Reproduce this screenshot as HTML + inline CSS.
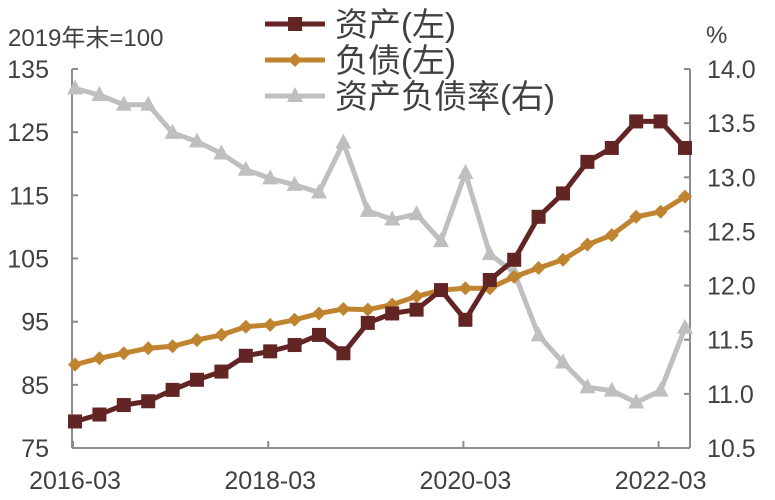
<!DOCTYPE html>
<html><head><meta charset="utf-8">
<style>
body{margin:0;background:#fff;}
svg{display:block;font-family:"Liberation Sans","Noto Sans CJK SC",sans-serif;}
</style></head><body>
<svg id="chart" width="775" height="500"></svg>
<script>
const categories=["2016-03","2016-06","2016-09","2016-12","2017-03","2017-06","2017-09","2017-12","2018-03","2018-06","2018-09","2018-12","2019-03","2019-06","2019-09","2019-12","2020-03","2020-06","2020-09","2020-12","2021-03","2021-06","2021-09","2021-12","2022-03","2022-06"];
const assets=[79.2,80.3,81.8,82.4,84.2,85.8,87.1,89.6,90.3,91.3,92.9,90.0,94.8,96.3,96.9,100.0,95.3,101.6,104.8,111.6,115.3,120.3,122.5,126.7,126.7,122.5];
const liabilities=[88.2,89.2,90.0,90.8,91.1,92.1,92.9,94.2,94.5,95.3,96.3,97.0,96.9,97.7,99.0,100.0,100.3,100.3,102.1,103.5,104.8,107.2,108.7,111.6,112.4,114.8];
const ratio=[13.82,13.76,13.67,13.67,13.41,13.33,13.22,13.07,12.99,12.93,12.86,13.32,12.69,12.61,12.66,12.41,13.04,12.29,12.12,11.54,11.29,11.06,11.03,10.92,11.03,11.61];
const leftTicks=[75,85,95,105,115,125,135];
const rightTicks=["10.5","11.0","11.5","12.0","12.5","13.0","13.5","14.0"];
const xLabels=["2016-03","2018-03","2020-03","2022-03"];

const NS="http://www.w3.org/2000/svg";
const svg=document.getElementById('chart');
const L=72,R=690,T=69,B=448;
const x0=75,x1=685;
function xs(i){return x0+(x1-x0)*i/(categories.length-1);}
function yl(v){return B-(v-75)/(135-75)*(B-T);}
function yr(v){return B-(v-10.5)/(14-10.5)*(B-T);}
function mk(tag,attrs,parent){const e=document.createElementNS(NS,tag);for(const k in attrs)e.setAttribute(k,attrs[k]);(parent||svg).appendChild(e);return e;}

const ax="#8c8c8c",tc="#404040";
let e=mk('line',{x1:L,y1:T,x2:L,y2:B,stroke:ax,'stroke-width':2});


e=mk('line',{x1:R,y1:T,x2:R,y2:B,stroke:ax,'stroke-width':2});


e=mk('line',{x1:L,y1:B,x2:R,y2:B,stroke:ax,'stroke-width':2});


leftTicks.forEach(v=>{
  mk('line',{x1:L,y1:yl(v),x2:L+6,y2:yl(v),stroke:ax,'stroke-width':2});
  const t=mk('text',{x:49,y:yl(v)+9,'text-anchor':'end','font-size':25,fill:tc});
  t.textContent=v;
  
  
});
rightTicks.forEach(s=>{
  const v=parseFloat(s);
  mk('line',{x1:R-6,y1:yr(v),x2:R,y2:yr(v),stroke:ax,'stroke-width':2});
  const t=mk('text',{x:707,y:yr(v)+9,'font-size':25,fill:tc});
  t.textContent=s;
  
  
});
xLabels.forEach(s=>{
  const i=categories.indexOf(s);
  mk('line',{x1:xs(i)-2,y1:B,x2:xs(i)-2,y2:B-7,stroke:ax,'stroke-width':2});
  const t=mk('text',{x:xs(i),y:489,'text-anchor':'middle','font-size':25,fill:tc});
  t.textContent=s;
  
  
});
let t=mk('text',{x:8,y:46,'font-size':24,fill:tc});t.textContent="2019年末=100";


t=mk('text',{x:706,y:43,'font-size':24,fill:tc});t.textContent="%";



function marker(type,x,y,c,g){
  if(type==='sq')return mk('rect',{x:x-7,y:y-7,width:14,height:14,fill:c},g);
  if(type==='di')return mk('polygon',{points:`${x},${y-7} ${x+7},${y} ${x},${y+7} ${x-7},${y}`,fill:c},g);
  return mk('polygon',{points:`${x},${y-9} ${x+8},${y+6} ${x-8},${y+6}`,fill:c},g);
}
function series(vals,ys,c,type,name){
  const g=mk('g',{});
  
  
  mk('polyline',{points:vals.map((v,i)=>xs(i)+','+ys(v)).join(' '),fill:'none',stroke:c,'stroke-width':5,'stroke-linejoin':'miter'},g);
  vals.forEach((v,i)=>{const m=marker(type,xs(i),ys(v),c,g);
    
    });
}
series(ratio,yr,"#bfbfbf","tr","ratio-series");
series(liabilities,yl,"#c0832f","di","liabilities-series");
series(assets,yl,"#632523","sq","assets-series");

const leg=[["资产(左)","#632523","sq",24],["负债(左)","#c0832f","di",60],["资产负债率(右)","#bfbfbf","tr",96]];
leg.forEach(([s,c,type,y])=>{
  const g=mk('g',{});
  
  
  mk('line',{x1:265,y1:y,x2:325,y2:y,stroke:c,'stroke-width':5},g);
  marker(type,295,y,c,g);
  const tx=mk('text',{x:335,y:y+12,'font-size':33,fill:tc},g);tx.textContent=s;
});
</script>
</body></html>
